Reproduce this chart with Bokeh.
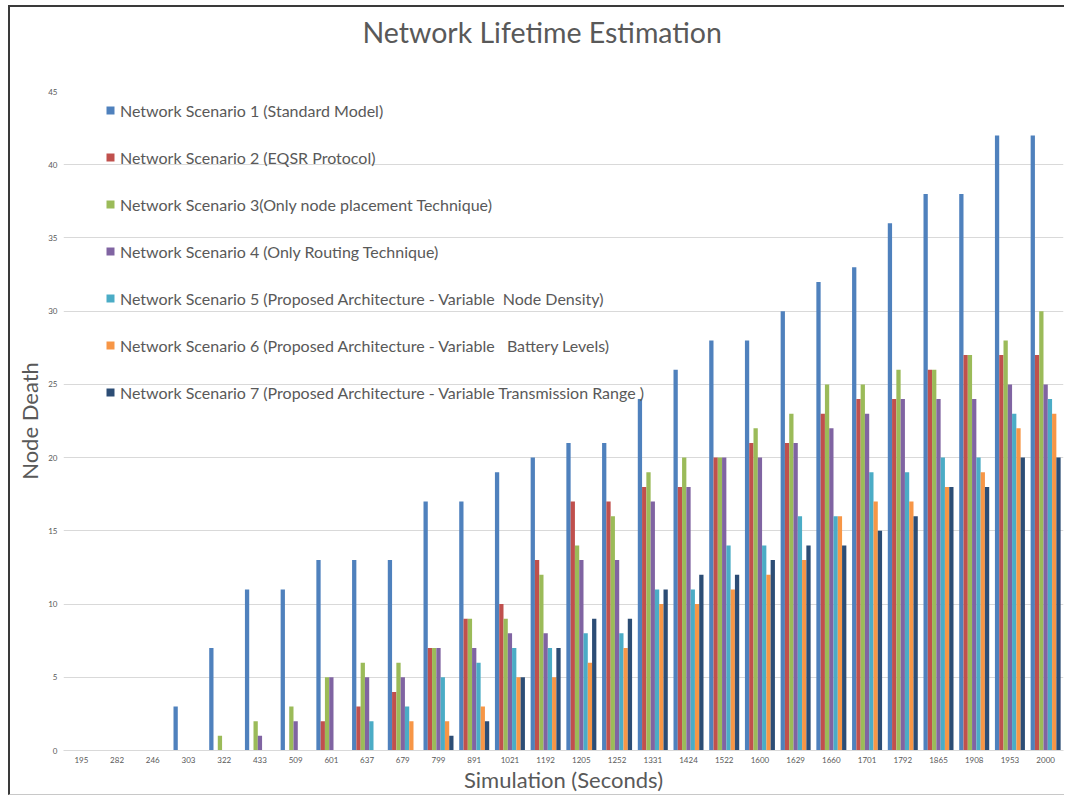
from bokeh.plotting import figure
from bokeh.models import ColumnDataSource, Legend, LegendItem, Title
from bokeh.transform import dodge
from bokeh.embed import file_html
from bokeh.resources import INLINE

categories = ["195", "282", "246", "303", "322", "433", "509", "601", "637", "679",
              "799", "891", "1021", "1192", "1205", "1252", "1331", "1424", "1522",
              "1600", "1629", "1660", "1701", "1792", "1865", "1908", "1953", "2000"]

s1 = [0, 0, 0, 3, 7, 11, 11, 13, 13, 13, 17, 17, 19, 20, 21, 21, 24, 26, 28, 28, 30, 32, 33, 36, 38, 38, 42, 42]
s2 = [0, 0, 0, 0, 0, 0, 0, 2, 3, 4, 7, 9, 10, 13, 17, 17, 18, 18, 20, 21, 21, 23, 24, 24, 26, 27, 27, 27]
s3 = [0, 0, 0, 0, 1, 2, 3, 5, 6, 6, 7, 9, 9, 12, 14, 16, 19, 20, 20, 22, 23, 25, 25, 26, 26, 27, 28, 30]
s4 = [0, 0, 0, 0, 0, 1, 2, 5, 5, 5, 7, 7, 8, 8, 13, 13, 17, 18, 20, 20, 21, 22, 23, 24, 24, 24, 25, 25]
s5 = [0, 0, 0, 0, 0, 0, 0, 0, 2, 3, 5, 6, 7, 7, 8, 8, 11, 11, 14, 14, 16, 16, 19, 19, 20, 20, 23, 24]
s6 = [0, 0, 0, 0, 0, 0, 0, 0, 0, 2, 2, 3, 5, 5, 6, 7, 10, 10, 11, 12, 13, 16, 17, 17, 18, 19, 22, 23]
s7 = [0, 0, 0, 0, 0, 0, 0, 0, 0, 0, 1, 2, 5, 7, 9, 9, 11, 12, 12, 13, 14, 14, 15, 16, 18, 18, 20, 20]

series_names = [
    "Network Scenario 1 (Standard Model)",
    "Network Scenario 2 (EQSR Protocol)",
    "Network Scenario 3(Only node placement Technique)",
    "Network Scenario 4 (Only Routing Technique)",
    "Network Scenario 5 (Proposed Architecture - Variable  Node Density)",
    "Network Scenario 6 (Proposed Architecture - Variable   Battery Levels)",
    "Network Scenario 7 (Proposed Architecture - Variable Transmission Range )",
]
colors = ["#4F81BD", "#C0504D", "#9BBB59", "#8064A2", "#4BACC6", "#F79646", "#2C4D75"]
chart_title = "Network Lifetime Estimation"

FONT = "Lato"
TXT = "#595959"

src = ColumnDataSource(dict(x=categories, s1=s1, s2=s2, s3=s3, s4=s4, s5=s5, s6=s6, s7=s7))

p = figure(x_range=categories, y_range=(0, 45), width=1056, height=790, title=None,
           output_backend="svg", toolbar_location=None,
           min_border_left=53, min_border_right=3, min_border_bottom=47, min_border_top=84)

# spacer between the frame and the title, then the title itself (outer)
p.add_layout(Title(text=" ", text_font_size="1px", standoff=35), "above")
p.add_layout(Title(text=chart_title, align="left", offset=299,
                   text_font=FONT, text_font_size="28.5px", text_font_style="normal",
                   text_color=TXT, standoff=10), "above")

bar_w = 0.12
items = []
for i, key in enumerate(["s1", "s2", "s3", "s4", "s5", "s6", "s7"]):
    r = p.vbar(x=dodge("x", (i - 3) * bar_w, range=p.x_range), top=key, width=bar_w,
               source=src, fill_color=colors[i], line_color=None)
    items.append(LegendItem(label=series_names[i], renderers=[r]))

legend = Legend(items=items, location=(42, 348), orientation="vertical",
                label_text_font=FONT, label_text_font_size="16px", label_text_color=TXT,
                glyph_width=10, glyph_height=10, label_height=20, spacing=27,
                label_standoff=5, padding=0, margin=0,
                background_fill_alpha=0, border_line_alpha=0)
p.add_layout(legend)

p.outline_line_color = None
p.background_fill_color = "white"
p.border_fill_color = "white"

p.xgrid.grid_line_color = None
p.ygrid.grid_line_color = "#D9D9D9"
p.ygrid.grid_line_width = 1

p.yaxis.ticker = list(range(0, 46, 5))
p.yaxis.axis_line_color = None
p.yaxis.major_tick_line_color = None
p.yaxis.minor_tick_line_color = None
p.yaxis.major_label_text_font = FONT
p.yaxis.major_label_text_font_size = "8px"
p.yaxis.major_label_text_color = TXT
p.yaxis.major_label_standoff = 0
p.yaxis.axis_label = "Node Death"
p.yaxis.axis_label_text_font = FONT
p.yaxis.axis_label_text_font_size = "22px"
p.yaxis.axis_label_text_font_style = "normal"
p.yaxis.axis_label_text_color = TXT
p.yaxis.axis_label_standoff = 2

p.xaxis.axis_line_color = "#D9D9D9"
p.xaxis.major_tick_line_color = None
p.xaxis.minor_tick_line_color = None
p.xaxis.major_label_text_font = FONT
p.xaxis.major_label_text_font_size = "8px"
p.xaxis.major_label_text_color = TXT
p.xaxis.major_label_standoff = 0
p.xaxis.axis_label = "Simulation (Seconds)"
p.xaxis.axis_label_text_font = FONT
p.xaxis.axis_label_text_font_size = "22px"
p.xaxis.axis_label_text_font_style = "normal"
p.xaxis.axis_label_text_color = TXT
p.xaxis.axis_label_standoff = 0

p.styles = {"margin-left": "8px", "margin-top": "5px",
            "border-top": "2px solid #3a3a3a", "border-left": "2px solid #3a3a3a",
            "border-bottom": "1px solid #c8c8c8"}

open("out.html", "w").write(file_html(p, INLINE))
